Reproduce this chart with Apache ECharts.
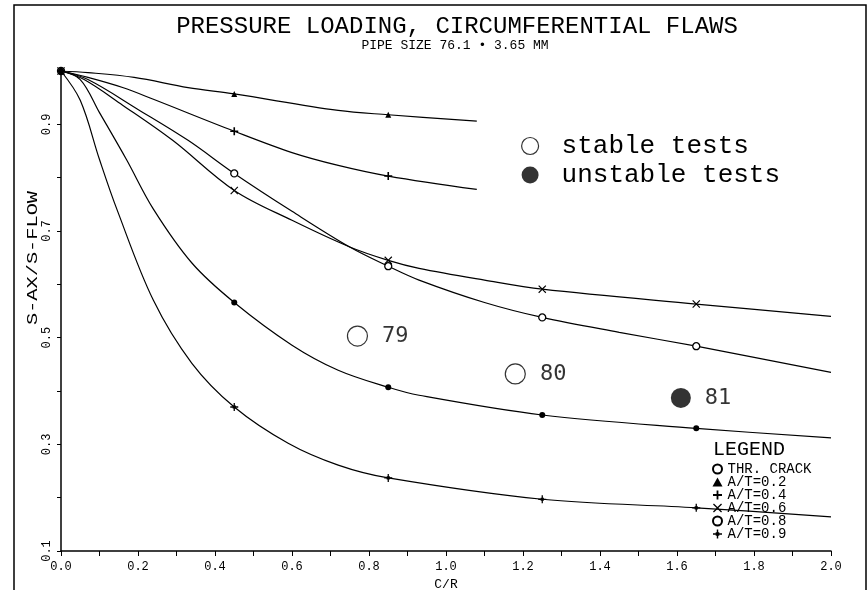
<!DOCTYPE html>
<html>
<head>
<meta charset="utf-8">
<script src="https://cdn.jsdelivr.net/npm/echarts@6/dist/echarts.min.js"></script>
<style>html,body{margin:0;padding:0;background:#fff}#c{width:868px;height:590px}</style>
</head>
<body>
<div id="c"></div>
<script>
// ---- data ----
const titleText = 'PRESSURE LOADING, CIRCUMFERENTIAL FLAWS';
const subtitleText = 'PIPE SIZE 76.1 \u2022 3.65 MM';
const xName = 'C/R';
const yName = 'S-AX/S-FLOW';
const markerCR = [0, 0.45, 0.85, 1.25, 1.65];

const curveNames = ['THR. CRACK', 'A/T=0.2', 'A/T=0.4', 'A/T=0.6', 'A/T=0.8', 'A/T=0.9'];

const thrCR  = [0, 0.07, 0.2, 0.33, 0.45, 0.6, 0.75, 0.85, 0.93, 1.1, 1.25, 1.45, 1.65, 2.0];
const thrVal = [1.0, 0.984, 0.928, 0.870, 0.808, 0.737, 0.670, 0.634, 0.608, 0.566, 0.538, 0.510, 0.484, 0.435];

const at02CR  = [0, 0.07, 0.19, 0.33, 0.45, 0.72, 0.85, 1.08];
const at02Val = [1.0, 0.997, 0.988, 0.969, 0.957, 0.926, 0.918, 0.906];

const at04CR  = [0, 0.07, 0.16, 0.24, 0.45, 0.6, 0.72, 0.85, 1.08];
const at04Val = [1.0, 0.988, 0.969, 0.947, 0.887, 0.847, 0.823, 0.803, 0.778];

const at06CR  = [0, 0.06, 0.16, 0.29, 0.45, 0.6, 0.75, 0.85, 0.93, 1.1, 1.25, 1.65, 2.0];
const at06Val = [1.0, 0.984, 0.936, 0.870, 0.776, 0.720, 0.670, 0.645, 0.630, 0.608, 0.591, 0.563, 0.540];

const at08CR  = [0, 0.05, 0.1, 0.17, 0.24, 0.34, 0.45, 0.6, 0.72, 0.85, 0.93, 1.25, 1.65, 2.0];
const at08Val = [1.0, 0.984, 0.922, 0.834, 0.741, 0.640, 0.566, 0.486, 0.439, 0.407, 0.392, 0.355, 0.330, 0.312];

const at09CR  = [0, 0.05, 0.1, 0.145, 0.24, 0.34, 0.45, 0.59, 0.72, 0.85, 1.25, 1.65, 2.0];
const at09Val = [1.0, 0.945, 0.834, 0.741, 0.570, 0.452, 0.370, 0.302, 0.261, 0.237, 0.197, 0.181, 0.164];

const testId     = ['79', '80', '81'];
const testCR     = [0.77, 1.18, 1.61];
const testVal    = [0.503, 0.432, 0.387];
const testStable = [true, true, false];
const testNames  = ['stable tests', 'unstable tests'];

// ---- styles ----
const PLUS = 'path://M4,0h2v4h4v2h-4v4h-2v-4h-4v-2h4z';
const CROSS = 'path://M0,1L1,0L5,4L9,0L10,1L6,5L10,9L9,10L5,6L1,10L0,9L4,5Z';
const PLUSDOT = 'path://M4.2,0h1.6v3h1.2v1.2h3v1.6h-3v1.2h-1.2v3h-1.6v-3h-1.2v-1.2h-3v-1.6h3v-1.2h1.2z';

const curveDefs = [
  {name: curveNames[0], cr: thrCR,  val: thrVal,  symbol: 'circle',   size: 7, item: {color: '#fff', borderColor: '#000', borderWidth: 1.3}},
  {name: curveNames[1], cr: at02CR, val: at02Val, symbol: 'triangle', size: 6, item: {color: '#000'}},
  {name: curveNames[2], cr: at04CR, val: at04Val, symbol: PLUS,       size: 8, item: {color: '#000'}},
  {name: curveNames[3], cr: at06CR, val: at06Val, symbol: CROSS,      size: 8, item: {color: '#000'}},
  {name: curveNames[4], cr: at08CR, val: at08Val, symbol: 'circle',   size: 6, item: {color: '#000'}},
  {name: curveNames[5], cr: at09CR, val: at09Val, symbol: PLUSDOT,    size: 8, item: {color: '#000'}}
];

const mono = "'Liberation Mono', 'DejaVu Sans Mono', monospace";

const series = curveDefs.map(d => ({
  name: d.name,
  type: 'line',
  smooth: 0.35,
  symbolSize: d.size,
  showSymbol: true,
  lineStyle: {color: '#000', width: 1.2},
  itemStyle: d.item,
  data: d.cr.map((x, i) => ({
    value: [x, d.val[i]],
    symbol: markerCR.indexOf(x) >= 0 ? d.symbol : 'none'
  })),
  z: 3
}));

testNames.forEach((nm, k) => {
  const stable = k === 0;
  series.push({
    name: nm,
    type: 'scatter',
    symbol: 'circle',
    symbolSize: 20,
    itemStyle: stable ? {color: '#fff', borderColor: '#000', borderWidth: 1.2} : {color: '#000'},
    label: {
      show: true, position: 'right', distance: 14, formatter: '{b}',
      fontFamily: "'DejaVu Sans Mono', monospace", fontSize: 22, color: '#000'
    },
    data: testId.map((id, i) => ({id: i, name: id, value: [testCR[i], testVal[i]]}))
               .filter((p, i) => testStable[i] === stable),
    z: 5
  });
});

const legendIcons = ['emptyCircle', 'triangle', PLUS, CROSS, 'emptyCircle', PLUSDOT];

const option = {
  animation: false,
  backgroundColor: '#fff',
  grid: {left: 61, right: 37, top: 71, bottom: 39, containLabel: false, outerBoundsMode: 'none'},
  xAxis: {
    type: 'value', min: 0, max: 2.0, interval: 0.1,
    name: xName, nameLocation: 'middle', nameGap: 25,
    nameTextStyle: {fontFamily: mono, fontSize: 13, color: '#000'},
    axisLine: {lineStyle: {color: '#000', width: 1.5}},
    axisTick: {show: true, length: 5, lineStyle: {color: '#000', width: 1}},
    axisLabel: {
      margin: 10, fontFamily: mono, fontSize: 12, color: '#000',
      formatter: v => (Math.round(v * 10) % 2 === 0 ? v.toFixed(1) : '')
    },
    splitLine: {show: false}
  },
  yAxis: {
    type: 'value', min: 0.1, max: 1.0, interval: 0.1,
    axisLine: {show: true, lineStyle: {color: '#000', width: 1.5}},
    axisTick: {show: true, length: 4, lineStyle: {color: '#000', width: 1}},
    axisLabel: {
      rotate: 90, margin: 8, fontFamily: mono, fontSize: 12, color: '#000',
      formatter: v => (Math.round(v * 10) % 2 === 1 ? v.toFixed(1) : '')
    },
    splitLine: {show: false}
  },
  legend: [
    {
      orient: 'vertical', left: 712, top: 462, padding: 0, itemGap: -1,
      itemWidth: 10, itemHeight: 9, selectedMode: false,
      textStyle: {fontFamily: mono, fontSize: 14, lineHeight: 13, color: '#000'},
      data: curveNames.map((n, i) => ({
        name: n, icon: legendIcons[i],
        itemStyle: {color: '#000', borderWidth: 0}
      }))
    },
    {
      orient: 'vertical', left: 521, top: 133, padding: 0, itemGap: 3,
      itemWidth: 17, itemHeight: 17, selectedMode: false,
      textStyle: {fontFamily: mono, fontSize: 26, lineHeight: 26, color: '#000', padding: [0, 0, 0, 18]},
      data: [
        {name: testNames[0], icon: 'circle', itemStyle: {color: '#fff', borderColor: '#000', borderWidth: 1.2}},
        {name: testNames[1], icon: 'circle', itemStyle: {color: '#000', borderWidth: 0}}
      ]
    }
  ],
  graphic: [
    {type: 'polyline', shape: {points: [[14, 590], [14, 5], [866, 5], [866, 590]]},
     style: {stroke: '#000', lineWidth: 1.5, fill: null}, silent: true},
    {type: 'text', x: 457, y: 27,
     style: {text: titleText, font: "24px 'Liberation Mono', monospace", fill: '#000', textAlign: 'center', textVerticalAlign: 'middle'}},
    {type: 'text', x: 455, y: 46,
     style: {text: subtitleText, font: "13px 'Liberation Mono', monospace", fill: '#000', textAlign: 'center', textVerticalAlign: 'middle'}},
    {type: 'text', x: 713, y: 450,
     style: {text: 'LEGEND', font: "20px 'Liberation Mono', monospace", fill: '#000', textAlign: 'left', textVerticalAlign: 'middle'}},
    {type: 'text', x: 33, y: 258, rotation: Math.PI / 2, scaleX: 1.45,
     style: {text: yName, font: "14px 'Liberation Mono', monospace", fill: '#000', textAlign: 'center', textVerticalAlign: 'middle'}}
  ],
  series: series
};

const chart = echarts.init(document.getElementById('c'), null, {renderer: 'canvas'});
chart.setOption(option);
</script>
</body>
</html>
